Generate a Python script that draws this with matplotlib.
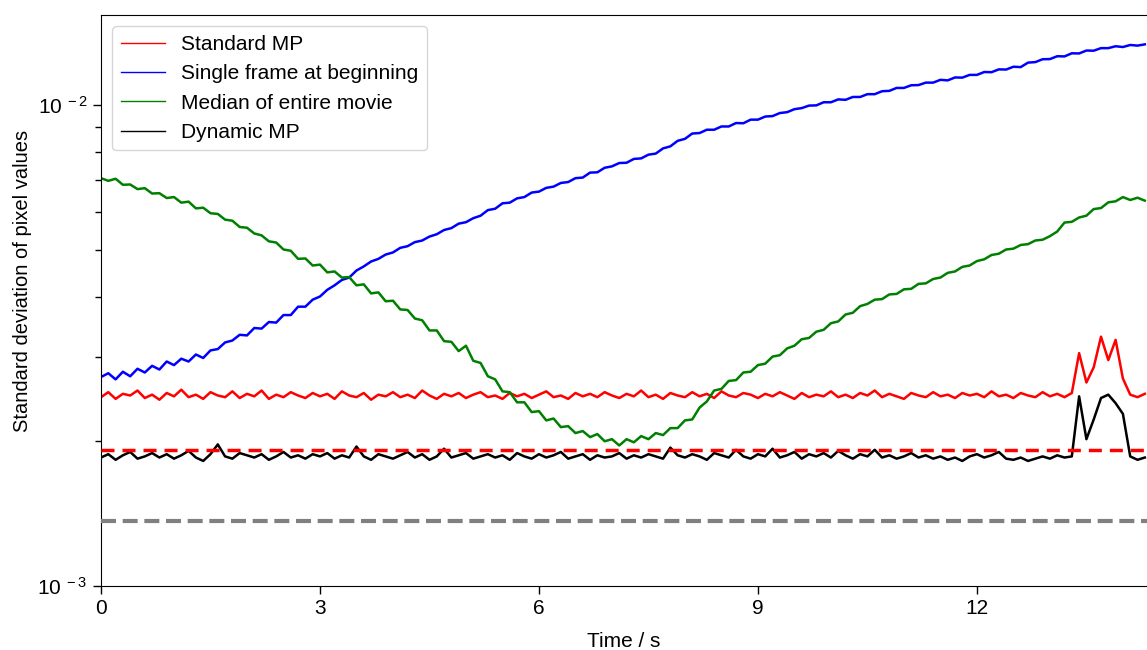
import numpy as np
import matplotlib
matplotlib.use("Agg")
import matplotlib.pyplot as plt
from matplotlib.lines import Line2D

plt.rcParams['font.family'] = ['Liberation Sans', 'DejaVu Sans']
plt.rcParams['mathtext.fontset'] = 'custom'
plt.rcParams['mathtext.rm'] = 'Liberation Sans'
plt.rcParams['mathtext.it'] = 'Liberation Sans:italic'

# time axis, one reading every 0.1 s
t = np.arange(144) * 0.1

# std of pixel values, in units of 1e-3
standard_mp = [
    2.47, 2.53, 2.45, 2.51, 2.49, 2.55, 2.46, 2.50, 2.44, 2.52,
    2.48, 2.56, 2.47, 2.50, 2.45, 2.53, 2.49, 2.47, 2.54, 2.46,
    2.51, 2.48, 2.55, 2.45, 2.50, 2.47, 2.53, 2.49, 2.46, 2.52,
    2.48, 2.51, 2.45, 2.54, 2.49, 2.47, 2.52, 2.44, 2.50, 2.48,
    2.53, 2.47, 2.50, 2.46, 2.55, 2.49, 2.45, 2.51, 2.48, 2.52,
    2.46, 2.50, 2.53, 2.47, 2.49, 2.45, 2.52, 2.48, 2.51, 2.46,
    2.50, 2.54, 2.47, 2.49, 2.45, 2.52, 2.48, 2.51, 2.47, 2.53,
    2.49, 2.46, 2.51, 2.48, 2.55, 2.47, 2.50, 2.45, 2.52, 2.49,
    2.47, 2.53, 2.48, 2.51, 2.46, 2.54, 2.49, 2.47, 2.52, 2.50,
    2.46, 2.51, 2.48, 2.53, 2.49, 2.45, 2.52, 2.47, 2.50, 2.48,
    2.54, 2.47, 2.50, 2.46, 2.52, 2.49, 2.55, 2.47, 2.51, 2.48,
    2.45, 2.52, 2.49, 2.47, 2.53, 2.48, 2.50, 2.46, 2.52, 2.49,
    2.51, 2.47, 2.54, 2.48, 2.50, 2.46, 2.52, 2.49, 2.47, 2.53,
    2.48, 2.51, 2.47, 2.52, 3.05, 2.65, 2.85, 3.30, 2.95, 3.25,
    2.70, 2.50, 2.47, 2.51]

single_frame = [
    2.72, 2.77, 2.69, 2.79, 2.73, 2.83, 2.78, 2.87, 2.82, 2.93,
    2.88, 2.97, 2.93, 3.03, 2.98, 3.09, 3.11, 3.21, 3.24, 3.33,
    3.32, 3.44, 3.43, 3.54, 3.53, 3.66, 3.66, 3.81, 3.81, 3.94,
    4.00, 4.13, 4.22, 4.33, 4.38, 4.53, 4.62, 4.73, 4.79, 4.89,
    4.94, 5.05, 5.09, 5.19, 5.23, 5.33, 5.39, 5.50, 5.55, 5.67,
    5.71, 5.82, 5.89, 6.05, 6.09, 6.25, 6.27, 6.40, 6.44, 6.58,
    6.61, 6.73, 6.77, 6.89, 6.92, 7.05, 7.07, 7.24, 7.25, 7.41,
    7.46, 7.58, 7.59, 7.73, 7.75, 7.89, 7.93, 8.13, 8.21, 8.43,
    8.51, 8.73, 8.75, 8.89, 8.89, 9.03, 9.03, 9.18, 9.17, 9.33,
    9.33, 9.47, 9.49, 9.63, 9.67, 9.81, 9.86, 9.98, 9.99, 10.14,
    10.14, 10.28, 10.26, 10.40, 10.40, 10.54, 10.54, 10.69, 10.71, 10.86,
    10.86, 11.00, 11.01, 11.14, 11.14, 11.29, 11.26, 11.42, 11.41, 11.56,
    11.56, 11.72, 11.71, 11.87, 11.86, 12.02, 12.00, 12.26, 12.29, 12.46,
    12.47, 12.64, 12.63, 12.82, 12.81, 12.99, 12.98, 13.14, 13.14, 13.26,
    13.21, 13.34, 13.30, 13.38]

median_movie = [
    7.05, 6.96, 7.03, 6.83, 6.84, 6.69, 6.72, 6.55, 6.56, 6.41,
    6.44, 6.27, 6.30, 6.10, 6.12, 5.96, 5.94, 5.78, 5.75, 5.58,
    5.56, 5.41, 5.36, 5.21, 5.18, 5.01, 4.98, 4.79, 4.80, 4.64,
    4.66, 4.49, 4.51, 4.38, 4.39, 4.22, 4.24, 4.06, 4.08, 3.91,
    3.92, 3.76, 3.75, 3.60, 3.57, 3.40, 3.40, 3.23, 3.22, 3.08,
    3.16, 2.94, 2.91, 2.73, 2.69, 2.54, 2.53, 2.41, 2.41, 2.30,
    2.31, 2.21, 2.23, 2.14, 2.15, 2.08, 2.10, 2.04, 2.07, 2.00,
    2.02, 1.96, 2.02, 1.99, 2.05, 2.02, 2.08, 2.06, 2.13, 2.13,
    2.21, 2.22, 2.35, 2.42, 2.55, 2.57, 2.67, 2.68, 2.78, 2.79,
    2.88, 2.90, 3.00, 3.02, 3.12, 3.16, 3.26, 3.28, 3.38, 3.41,
    3.52, 3.55, 3.67, 3.70, 3.82, 3.86, 3.94, 3.95, 4.04, 4.05,
    4.14, 4.15, 4.25, 4.26, 4.35, 4.38, 4.48, 4.51, 4.61, 4.64,
    4.74, 4.78, 4.88, 4.91, 5.01, 5.03, 5.12, 5.14, 5.23, 5.25,
    5.34, 5.46, 5.70, 5.72, 5.84, 5.89, 6.08, 6.11, 6.28, 6.31,
    6.44, 6.35, 6.42, 6.33]

dynamic_mp = [
    1.85, 1.88, 1.83, 1.87, 1.90, 1.84, 1.86, 1.89, 1.85, 1.88,
    1.84, 1.87, 1.91, 1.85, 1.82, 1.88, 1.97, 1.86, 1.84, 1.89,
    1.87, 1.85, 1.88, 1.83, 1.86, 1.90, 1.85, 1.87, 1.84, 1.88,
    1.86, 1.89, 1.84, 1.87, 1.85, 1.95, 1.86, 1.83, 1.88, 1.86,
    1.84, 1.87, 1.90, 1.85, 1.88, 1.83, 1.86, 1.93, 1.85, 1.87,
    1.89, 1.84, 1.86, 1.88, 1.85, 1.87, 1.83, 1.89, 1.86, 1.84,
    1.88, 1.85, 1.87, 1.90, 1.84, 1.86, 1.88, 1.83, 1.87, 1.85,
    1.86, 1.89, 1.84, 1.87, 1.85, 1.88, 1.86, 1.84, 1.94, 1.87,
    1.85, 1.88, 1.86, 1.83, 1.89, 1.87, 1.85, 1.92, 1.86, 1.84,
    1.88, 1.86, 1.93, 1.85, 1.87, 1.90, 1.84, 1.88, 1.86, 1.89,
    1.85, 1.91, 1.87, 1.84, 1.88, 1.86, 1.92, 1.85, 1.87, 1.84,
    1.86, 1.89, 1.85, 1.87, 1.84, 1.86, 1.83, 1.85, 1.82, 1.86,
    1.88, 1.85, 1.87, 1.90, 1.84, 1.83, 1.85, 1.82, 1.84, 1.86,
    1.84, 1.87, 1.85, 1.86, 2.48, 2.02, 2.22, 2.46, 2.50, 2.40,
    2.28, 1.86, 1.83, 1.85]

# reference levels (dashed), units of 1e-3
red_level = 1.918
gray_level = 1.365

labels = ['Standard MP', 'Single frame at beginning',
          'Median of entire movie', 'Dynamic MP']
colors = ['red', 'blue', 'green', 'black']
series = [standard_mp, single_frame, median_movie, dynamic_mp]

fig = plt.figure(figsize=(11.47, 6.5), dpi=100)
ax = fig.add_axes([101/1147, 64/650, 1046/1147, 571/650])

for s, c in zip(series, colors):
    ax.plot(t, np.array(s) * 1e-3, color=c, lw=1.8)

ax.axhline(red_level * 1e-3, color='red', lw=2.5, dashes=(3.75, 2.3), zorder=5)
ax.axhline(gray_level * 1e-3, color='gray', lw=3, dashes=(3.6, 1.6), zorder=5)

ax.set_yscale('log')
ax.set_ylim(1e-3, 1.54e-2)
ax.set_xlim(0, 14.33)
ax.set_xticks([0, 3, 6, 9, 12])
ax.set_yticks([1e-3, 1e-2], [r'10$^{\ -3}$', r'10$^{\ -2}$'])
ax.tick_params(axis='both', labelsize=15, length=6, width=1)
ax.tick_params(axis='y', which='minor', length=4, width=1)
ax.spines['right'].set_visible(False)

ax.set_xlabel('Time / s', fontsize=15, labelpad=10)
ax.set_ylabel('Standard deviation of pixel values', fontsize=14.5)
ax.yaxis.set_label_coords(-0.0655, 0.534)

handles = [Line2D([], [], color=c, lw=1) for c in colors]
ax.legend(handles, labels, loc='upper left', fontsize=15,
          handlelength=2.1, handletextpad=0.8, borderaxespad=0.55)

fig.savefig('out.png', dpi=100)
